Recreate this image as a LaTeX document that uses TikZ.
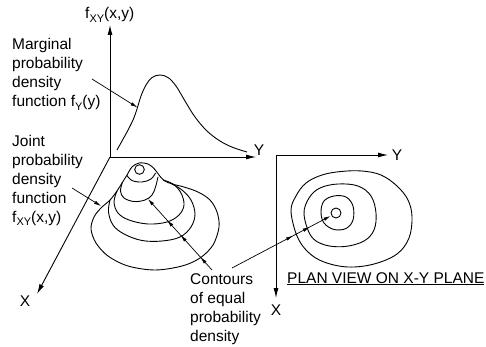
\documentclass[tikz,border=0pt]{standalone}
\usepackage{fontspec}
\setmainfont{Liberation Sans}
\usetikzlibrary{arrows.meta,decorations.markings}
\newcommand\sbs[1]{\raisebox{-0.45ex}{\fontsize{11}{11}\selectfont #1}}
\begin{document}
\begin{tikzpicture}[x=1pt,y=-1pt,
  axis/.style={line width=0.9pt,-{Latex[length=10pt,width=5pt]}},
  ptr/.style={line width=0.7pt,-{Latex[length=7pt,width=3.5pt]}},
  cont/.style={line width=0.9pt},
  txt/.style={inner sep=0pt,font=\fontsize{15.5}{18.9}\selectfont,align=left,anchor=north west},
  lbl/.style={inner sep=0pt,font=\fontsize{15.5}{18.9}\selectfont,anchor=base west},
  axlbl/.style={inner sep=0pt,font=\fontsize{15.5}{18.9}\selectfont},
  mkleft/.style={decoration={markings,
     mark=at position 0.18 with {\arrow{Latex[length=7pt,width=3.5pt]}},
     mark=at position 0.49 with {\arrow{Latex[length=7pt,width=3.5pt]}},
     mark=at position 0.70 with {\arrow{Latex[length=7pt,width=3.5pt]}}},postaction=decorate},
  mkright/.style={decoration={markings,
     mark=at position 0.62 with {\arrow{Latex[length=7pt,width=3.5pt]}},
     mark=at position 0.79 with {\arrow{Latex[length=7pt,width=3.5pt]}}},postaction=decorate}
]
\useasboundingbox (0,0) rectangle (486,347);

% ---------- left 3D axes ----------
\coordinate (O) at (110,157);
\coordinate (Ztip) at (110,25);
\coordinate (Ytip) at (256,157);
\coordinate (Xtip) at (37,294);
\draw[axis] (O) -- (Ztip);
\draw[axis] (O) -- (Ytip);
\draw[axis] (O) -- (Xtip);
\node[lbl] (fz) at (85,19) {f\sbs{XY}(x,y)};
\node[axlbl] (yl) at (259,150) {Y};
\node[axlbl] (xl) at (25,301) {X};

% marginal density curve
\draw[cont] plot[smooth,tension=0.6] coordinates {(117,150) (122,141) (127,132) (133,120) (137,109) (141,96) (146,85) (152,77.5) (160,75) (168,77.5) (176,86) (185,101) (195,117) (207,131) (220,141) (233,147.5) (247,152)};

% hill: silhouette + outer contour
\draw[cont] plot[smooth cycle,tension=0.55] coordinates {(139,163) (148,164) (154,168.5) (159,175) (164,180.5) (172,184) (184,187) (198,192) (210,200) (217,212) (219,227) (213,245) (200,258) (182,266) (155,270) (128,266) (108,256) (96,243) (91,229) (94,217) (101,208) (110,200) (117,191) (122,183) (127,175) (132,167)};
% cap contour (front)
\draw[cont] plot[smooth,tension=0.6] coordinates {(127,175.5) (132,180.5) (142,182) (151,179) (155.5,173)};
% lower contours (front halves)
\draw[cont] plot[smooth,tension=0.6] coordinates {(122.5,182) (120.5,191) (124,198) (134,201.5) (145,200) (152,195) (155.5,187) (158,177)};
\draw[cont] plot[smooth,tension=0.6] coordinates {(117,191) (114,202) (118,213) (129,220) (148,224) (167,222) (179,215) (184,205) (181,193) (173,184) (163,180)};
\draw[cont] plot[smooth,tension=0.6] coordinates {(110,200) (108.5,212) (113,225) (124,234) (142,240.5) (162,241) (180,237) (191,227) (195,214) (191,200) (182,190) (172,184)};
% peak
\draw[cont] (139.5,169.5) circle[radius=4.8];

% ---------- right plan view ----------
\coordinate (O2) at (276,155);
\coordinate (Y2tip) at (388,155);
\coordinate (X2tip) at (276,298);
\draw[axis] (O2) -- (Y2tip);
\draw[axis] (O2) -- (X2tip);
\node[axlbl] (yr) at (397,155) {Y};
\node[axlbl] (xr) at (276,310) {X};

\draw[cont] plot[smooth cycle,tension=0.6] coordinates {(291,211) (296,196) (306,183) (322,175) (341,171.5) (362,171) (381,175) (397,186) (408,200) (412,217) (409,238) (397,254) (374,264) (348,267) (324,262) (308,252) (297,236)};
\draw[cont] plot[smooth cycle,tension=0.6] coordinates {(304,214) (309,198) (320,188) (338,184) (358,186) (371,196) (376,213) (374,230) (364,241) (345,246.5) (325,245) (311,236)};
\draw[cont] plot[smooth cycle,tension=0.6] coordinates {(321,212) (324,201) (334,196) (346,197) (353,206) (353,220) (346,228.5) (334,229.5) (324,223)};
\draw[cont] (336,213) circle[radius=5];

\node[lbl] (plan) at (287,283) {\underline{PLAN VIEW ON X-Y PLANE}};

% ---------- labels and pointers ----------
\node[txt] (marg) at (12,38.2) {Marginal\\probability\\density\\function f\sbs{Y}(y)};
\node[txt] (joint) at (12,135.2) {Joint\\probability\\density\\function\\f\sbs{XY}(x,y)};
\node[txt] (conts) at (190,273.8) {Contours\\of equal\\probability\\density};

\coordinate (m1) at (92,79);
\coordinate (m2) at (137.5,107.5);
\draw[ptr] (m1) -- (m2);
\coordinate (j1) at (72,188);
\coordinate (j2) at (101,206);
\draw[ptr] (j1) -- (j2);

\coordinate (c1) at (212,270);
\coordinate (c2) at (148,199);
\draw[ptr,mkleft] (c1) -- (c2);
\coordinate (d1) at (232,268);
\coordinate (d2) at (330.5,216);
\draw[ptr,mkright] (d1) -- (d2);
\end{tikzpicture}
\end{document}
